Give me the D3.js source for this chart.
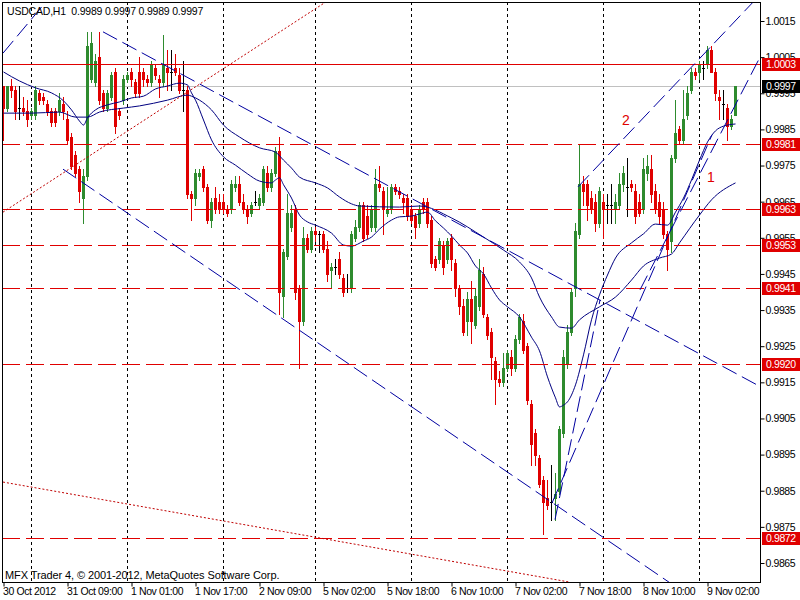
<!DOCTYPE html>
<html><head><meta charset="utf-8">
<script src="https://cdn.jsdelivr.net/npm/d3@7"></script>
<style>
body{margin:0;background:#fff;overflow:hidden;}
svg text{font-family:"Liberation Sans",Arial,sans-serif;}
</style></head><body>
<svg id="chart" width="800" height="600"></svg>
<script>
// ---------- DATA ----------
const symbolTitle = "USDCAD,H1  0.9989 0.9997 0.9989 0.9997";
const copyright = "MFX Trader 4, \u00A9 2001-2012, MetaQuotes Software Corp.";
const opens = [0.9997,0.9991,0.9997,0.9996,0.9991,0.9991,0.9990,0.9989,0.9989,0.9995,0.9994,0.9992,0.9990,0.9990,0.9990,0.9992,0.9988,0.9983,0.9978,0.9974,
0.9966,0.9972,0.9999,0.9998,1.0005,0.9995,0.9991,0.9994,1.0001,0.9990,0.9993,0.9999,1.0001,0.9998,1.0001,1.0001,0.9999,0.9998,1.0002,0.9999,
0.9998,1.0002,1.0001,1.0002,1.0000,0.9996,0.9996,0.9967,0.9966,0.9972,0.9974,0.9969,0.9960,0.9966,0.9965,0.9965,0.9963,0.9963,0.9969,0.9970,
0.9965,0.9963,0.9962,0.9965,0.9964,0.9965,0.9973,0.9969,0.9973,0.9979,0.9939,0.9950,0.9958,0.9963,0.9941,0.9932,0.9955,0.9952,0.9957,0.9956,
0.9956,0.9952,0.9946,0.9947,0.9949,0.9944,0.9941,0.9941,0.9955,0.9958,0.9964,0.9961,0.9958,0.9958,0.9970,0.9968,0.9962,0.9963,0.9969,0.9968,
0.9966,0.9966,0.9963,0.9961,0.9959,0.9965,0.9965,0.9960,0.9949,0.9949,0.9953,0.9949,0.9955,0.9948,0.9941,0.9936,0.9932,0.9938,0.9931,0.9936,
0.9945,0.9933,0.9929,0.9921,0.9916,0.9915,0.9919,0.9922,0.9919,0.9927,0.9932,0.9925,0.9909,0.9901,0.9894,0.9888,0.9883,0.9882,0.9883,0.9885,
0.9901,0.9920,0.9929,0.9941,0.9956,0.9970,0.9970,0.9966,0.9965,0.9959,0.9965,0.9964,0.9964,0.9963,0.9964,0.9970,0.9969,0.9970,0.9968,0.9965,
0.9963,0.9973,0.9974,0.9968,0.9965,0.9963,0.9956,0.9954,0.9977,0.9985,0.9982,0.9989,0.9996,1.0001,1.0001,1.0002,1.0003,1.0007,1.0001,0.9994,
0.9992,0.9991,0.9986,0.9989];
const highs = [0.9997,0.9997,0.9999,0.9997,0.9997,0.9994,0.9993,0.9991,0.9997,0.9996,0.9995,0.9993,0.9991,0.9991,0.9995,0.9994,0.9990,0.9984,0.9979,0.9975,
0.9974,1.0012,1.0012,1.0006,1.0012,0.9996,0.9996,1.0001,1.0002,0.9991,1.0000,1.0001,1.0002,0.9999,1.0005,1.0002,1.0000,1.0004,1.0003,1.0000,
1.0011,1.0007,1.0007,1.0006,1.0002,1.0004,0.9997,0.9968,0.9974,0.9974,0.9975,0.9970,0.9966,0.9969,0.9967,0.9967,0.9964,0.9971,0.9972,0.9972,
0.9967,0.9964,0.9965,0.9968,0.9967,0.9975,0.9975,0.9974,0.9980,0.9983,0.9952,0.9967,0.9964,0.9964,0.9942,0.9958,0.9956,0.9958,0.9958,0.9957,
0.9957,0.9954,0.9948,0.9949,0.9951,0.9945,0.9945,0.9957,0.9960,0.9965,0.9965,0.9964,0.9964,0.9974,0.9975,0.9969,0.9969,0.9970,0.9970,0.9969,
0.9967,0.9967,0.9964,0.9962,0.9964,0.9966,0.9966,0.9961,0.9950,0.9955,0.9954,0.9955,0.9956,0.9949,0.9942,0.9938,0.9940,0.9943,0.9941,0.9949,
0.9947,0.9934,0.9930,0.9922,0.9918,0.9923,0.9924,0.9924,0.9928,0.9934,0.9934,0.9926,0.9910,0.9902,0.9895,0.9889,0.9888,0.9892,0.9890,0.9903,
0.9924,0.9931,0.9941,0.9959,0.9981,0.9972,0.9971,0.9968,0.9967,0.9969,0.9967,0.9967,0.9970,0.9967,0.9973,0.9975,0.9977,0.9971,0.9970,0.9967,
0.9977,0.9978,0.9978,0.9970,0.9967,0.9965,0.9957,0.9978,0.9993,0.9986,0.9996,0.9997,1.0002,1.0002,1.0004,1.0004,1.0008,1.0008,1.0002,0.9996,
0.9996,0.9992,0.9989,0.9997];
const lows = [0.9982,0.9990,0.9994,0.9988,0.9988,0.9989,0.9986,0.9988,0.9988,0.9992,0.9992,0.9989,0.9986,0.9986,0.9989,0.9988,0.9981,0.9974,0.9972,0.9965,
0.9959,0.9971,0.9998,0.9997,0.9992,0.9990,0.9990,0.9993,0.9984,0.9988,0.9992,0.9998,0.9997,0.9994,0.9994,0.9997,0.9997,0.9997,0.9999,0.9994,
0.9997,0.9996,0.9996,1.0000,0.9995,0.9990,0.9966,0.9960,0.9964,0.9971,0.9968,0.9959,0.9958,0.9962,0.9962,0.9962,0.9961,0.9962,0.9968,0.9964,
0.9962,0.9959,0.9961,0.9964,0.9963,0.9964,0.9968,0.9968,0.9972,0.9934,0.9933,0.9949,0.9957,0.9938,0.9919,0.9931,0.9951,0.9951,0.9954,0.9951,
0.9951,0.9943,0.9941,0.9945,0.9944,0.9939,0.9940,0.9940,0.9954,0.9957,0.9954,0.9955,0.9957,0.9957,0.9968,0.9956,0.9961,0.9962,0.9967,0.9966,
0.9962,0.9960,0.9959,0.9955,0.9958,0.9962,0.9958,0.9947,0.9946,0.9948,0.9945,0.9948,0.9946,0.9939,0.9934,0.9928,0.9928,0.9926,0.9930,0.9935,
0.9933,0.9927,0.9916,0.9909,0.9914,0.9914,0.9918,0.9917,0.9918,0.9926,0.9923,0.9909,0.9892,0.9892,0.9886,0.9873,0.9880,0.9877,0.9877,0.9884,
0.9900,0.9919,0.9928,0.9939,0.9955,0.9964,0.9960,0.9962,0.9957,0.9958,0.9955,0.9959,0.9959,0.9959,0.9963,0.9968,0.9961,0.9968,0.9959,0.9961,
0.9962,0.9971,0.9965,0.9962,0.9959,0.9955,0.9946,0.9951,0.9976,0.9981,0.9981,0.9988,0.9995,0.9999,0.9999,0.9999,1.0002,1.0001,0.9993,0.9988,
0.9988,0.9982,0.9985,0.9989];
const closes = [0.9991,0.9997,0.9996,0.9990,0.9991,0.9990,0.9988,0.9990,0.9996,0.9993,0.9993,0.9990,0.9987,0.9987,0.9993,0.9990,0.9982,0.9975,0.9973,0.9968,
0.9972,1.0008,1.0009,1.0004,0.9993,0.9991,0.9995,1.0000,0.9986,0.9989,0.9999,1.0000,0.9999,0.9995,0.9995,0.9999,0.9998,1.0003,1.0000,0.9998,
1.0003,1.0001,1.0001,1.0001,0.9996,0.9996,0.9967,0.9966,0.9973,0.9973,0.9969,0.9960,0.9965,0.9963,0.9963,0.9963,0.9962,0.9970,0.9970,0.9965,
0.9963,0.9961,0.9964,0.9965,0.9966,0.9974,0.9969,0.9973,0.9979,0.9940,0.9951,0.9962,0.9962,0.9940,0.9932,0.9955,0.9952,0.9957,0.9956,0.9956,
0.9952,0.9945,0.9947,0.9947,0.9945,0.9940,0.9941,0.9956,0.9958,0.9964,0.9955,0.9956,0.9963,0.9970,0.9969,0.9963,0.9963,0.9969,0.9968,0.9967,
0.9965,0.9961,0.9960,0.9958,0.9963,0.9963,0.9959,0.9948,0.9947,0.9954,0.9947,0.9954,0.9949,0.9941,0.9936,0.9929,0.9938,0.9932,0.9939,0.9946,
0.9934,0.9928,0.9922,0.9916,0.9915,0.9919,0.9923,0.9919,0.9927,0.9933,0.9924,0.9910,0.9898,0.9895,0.9887,0.9882,0.9881,0.9882,0.9884,0.9902,
0.9922,0.9929,0.9940,0.9957,0.9970,0.9968,0.9964,0.9963,0.9959,0.9968,0.9963,0.9964,0.9964,0.9965,0.9970,0.9973,0.9969,0.9969,0.9961,0.9962,
0.9974,0.9975,0.9967,0.9963,0.9961,0.9956,0.9952,0.9977,0.9984,0.9982,0.9988,0.9995,1.0001,1.0000,1.0003,1.0002,1.0007,1.0001,0.9995,0.9993,
0.9992,0.9986,0.9988,0.9997];

const timeLabels = ["30 Oct 2012","31 Oct 09:00","1 Nov 01:00","1 Nov 17:00","2 Nov 09:00","5 Nov 02:00","5 Nov 18:00","6 Nov 10:00","7 Nov 02:00","7 Nov 18:00","8 Nov 10:00","9 Nov 02:00"];
const timeLabelBars = [0,16,32,48,64,80,96,112,128,144,160,176];
const dayStartBars = [7,31,55,78,102,126,150,174];
const priceTicks = [1.0015,1.0005,0.9995,0.9985,0.9975,0.9965,0.9955,0.9945,0.9935,0.9925,0.9915,0.9905,0.9895,0.9885,0.9875,0.9865];
const levelLines = [0.9981,0.9963,0.9953,0.9941,0.9920,0.9872];
const resistanceLine = 1.0003;
const bidPrice = 0.9997;

const maFastBars = [0,4,8,12,15,17,19,20,21,23,26,29,32,35,38,41,44,46,47,48,50,52,55,58,61,64,67,68,69,70,72,74,76,78,82,85,87,90,92,94,97,99,102,104,106,108,110,112,114,116,118,120,122,124,126,129,132,134,136,138,139,140,141,143,145,147,149,151,153,157,160,163,166,168,170,172,174,176,178,180,183];
const maFastValues = [1.00009,0.99984,0.99965,0.99951,0.99929,0.99904,0.99873,0.99862,0.99882,0.99904,0.99918,0.99926,0.99937,0.99942,0.99962,0.99970,0.99978,0.99973,0.99951,0.99931,0.99876,0.99821,0.99774,0.99751,0.99727,0.99707,0.99702,0.99710,0.99716,0.99697,0.99660,0.99613,0.99594,0.99585,0.99563,0.99530,0.99527,0.99541,0.99552,0.99574,0.99599,0.99608,0.99610,0.99616,0.99621,0.99597,0.99577,0.99555,0.99530,0.99508,0.99472,0.99450,0.99411,0.99378,0.99359,0.99331,0.99275,0.99237,0.99165,0.99107,0.99082,0.99087,0.99096,0.99143,0.99226,0.99323,0.99392,0.99447,0.99494,0.99536,0.99561,0.99588,0.99585,0.99621,0.99660,0.99710,0.99765,0.99815,0.99846,0.99859,0.99865];
const maSlowBars = [0,7,14,18,21,24,30,34,41,46,47,49,52,55,59,64,68,70,72,74,78,81,84,87,89,99,104,112,120,125,129,132,134,137,139,142,144,149,153,157,160,164,167,169,174,177,183];
const maSlowValues = [0.99895,0.99895,0.99898,0.99884,0.99884,0.99898,0.99909,0.99915,0.99931,0.99945,0.99942,0.99931,0.99904,0.99862,0.99829,0.99799,0.99787,0.99765,0.99743,0.99718,0.99702,0.99688,0.99663,0.99644,0.99638,0.99635,0.99638,0.99605,0.99552,0.99516,0.99483,0.99439,0.99386,0.99331,0.99303,0.99300,0.99323,0.99359,0.99386,0.99433,0.99472,0.99494,0.99505,0.99536,0.99613,0.99655,0.99702];

// trend objects: [bar, price] endpoints
const trendA = [[25,1.00120],[189.5,0.99137]];
const trendB = [[15,0.99740],[166.75,0.98595]];
const trendE = [[0,1.00061],[10.5,1.00200]];
const channel2 = [[143.75,0.99691],[187.75,1.00205]];
const fanA = [[137.25,0.98816],[177.25,0.99835]];
const fanB = [[138,0.98770],[149.25,0.99378]];
const fanC = [[159.25,0.99406],[189.25,1.00050]];
const dotUp = [[0,0.99621],[80.75,1.00203]];
const dotDown = [[0,0.98874],[141.75,0.98597]];
const noteText = ["2","1"];
const noteBars = [155.75,177];
const notePrices = [0.99876,0.99718];

// ---------- DRAW ----------
const W=800,H=600;
const plot={left:2,right:761,top:2,bottom:583};
const RED="#e00000", GREEN="#2e8b2e", NAVY="#000080", BLUE="#0000a0";
const svg=d3.select("#chart");
const x=d3.scaleLinear().domain([0,1]).range([3,7]);
const y=d3.scaleLinear().domain([0.9865,1.0015]).range([563,21]);
const py=p=>Math.round(y(p))+0.5;

svg.append("rect").attr("width",W).attr("height",H).attr("fill","#fff");
svg.append("defs").append("clipPath").attr("id","pc").append("rect")
  .attr("x",plot.left).attr("y",plot.top).attr("width",plot.right-plot.left).attr("height",plot.bottom-plot.top);
const g=svg.append("g").attr("clip-path","url(#pc)");

// day grid
g.selectAll(".vgrid").data(dayStartBars).join("line")
  .attr("x1",d=>x(d)+0.5).attr("x2",d=>x(d)+0.5).attr("y1",plot.top).attr("y2",plot.bottom)
  .attr("stroke","#000").attr("stroke-dasharray","3,3");

// bid line
g.append("line").attr("x1",plot.left).attr("x2",plot.right).attr("y1",py(bidPrice)).attr("y2",py(bidPrice)).attr("stroke","#c0c0c0");

// candles
const idx=d3.range(closes.length);
const col=i=>closes[i]>opens[i]?GREEN:(closes[i]<opens[i]?RED:"#000");
const cg=g.append("g").attr("shape-rendering","crispEdges");
cg.selectAll(".wick").data(idx).join("rect")
  .attr("x",i=>x(i)).attr("width",1)
  .attr("y",i=>Math.round(y(highs[i]))).attr("height",i=>Math.max(1,Math.round(y(lows[i]))-Math.round(y(highs[i]))+1))
  .attr("fill",col);
cg.selectAll(".body").data(idx).join("rect")
  .attr("x",i=>x(i)-1).attr("width",3)
  .attr("y",i=>Math.round(y(Math.max(opens[i],closes[i]))))
  .attr("height",i=>Math.max(1,Math.round(y(Math.min(opens[i],closes[i])))-Math.round(y(Math.max(opens[i],closes[i])))+1))
  .attr("fill",col);

// moving averages
const maLine=d3.line().x(d=>x(d[0])+0.5).y(d=>y(d[1])).curve(d3.curveMonotoneX);
g.append("path").attr("d",maLine(maFastBars.map((b,k)=>[b,maFastValues[k]]))).attr("fill","none").attr("stroke",NAVY).attr("stroke-width",1);
g.append("path").attr("d",maLine(maSlowBars.map((b,k)=>[b,maSlowValues[k]]))).attr("fill","none").attr("stroke",NAVY).attr("stroke-width",1);

// horizontal levels
g.selectAll(".lvl").data(levelLines).join("line")
  .attr("x1",plot.left).attr("x2",plot.right).attr("y1",py).attr("y2",py)
  .attr("stroke",RED).attr("stroke-dasharray","18,6");
g.append("line").attr("x1",plot.left).attr("x2",plot.right).attr("y1",py(resistanceLine)).attr("y2",py(resistanceLine)).attr("stroke",RED);

// trend lines
const seg=(pts,color,dash)=>g.append("line")
  .attr("x1",x(pts[0][0])).attr("y1",y(pts[0][1])).attr("x2",x(pts[1][0])).attr("y2",y(pts[1][1]))
  .attr("stroke",color).attr("stroke-width",1).attr("stroke-dasharray",dash);
[trendA,trendB,trendE,channel2,fanA,fanB,fanC].forEach(t=>seg(t,BLUE,"16,6"));
[dotUp,dotDown].forEach(t=>seg(t,"#c00000","2,2"));

// notes
g.selectAll(".note").data(noteText).join("text")
  .attr("x",(d,k)=>x(noteBars[k])).attr("y",(d,k)=>y(notePrices[k])+5)
  .attr("text-anchor","middle").attr("font-size",14).attr("fill",RED).text(d=>d);

// frame
svg.append("rect").attr("x",plot.left+0.5).attr("y",plot.top+0.5).attr("width",plot.right-plot.left-1).attr("height",plot.bottom-plot.top-1)
  .attr("fill","none").attr("stroke","#000");

// price axis
const yAxis=d3.axisRight(y).tickValues(priceTicks).tickFormat(d3.format(".4f")).tickSize(4).tickPadding(1);
const ya=svg.append("g").attr("transform",`translate(${plot.right-0.5},0)`).call(yAxis);
ya.select(".domain").remove();
ya.selectAll("text").attr("font-size",10.5).attr("letter-spacing",-0.4).attr("fill","#000").attr("font-family","Liberation Sans, Arial, sans-serif");
ya.selectAll("line").attr("stroke","#000");

// level boxes on axis
const boxes=[...levelLines.map(v=>({v,fill:RED})),{v:resistanceLine,fill:RED},{v:bidPrice,fill:"#000"}];
const bx=svg.selectAll(".box").data(boxes).join("g").attr("transform",d=>`translate(${plot.right},${Math.round(y(d.v))})`);
bx.append("rect").attr("x",1).attr("y",-6).attr("width",38).attr("height",13).attr("fill",d=>d.fill);
bx.append("text").attr("x",5).attr("y",4).attr("font-size",10.5).attr("letter-spacing",-0.4).attr("fill","#fff").text(d=>d3.format(".4f")(d.v));

// time axis
const xAxis=d3.axisBottom(x).tickValues(timeLabelBars).tickFormat((d,k)=>timeLabels[k]).tickSize(4).tickPadding(1);
const xa=svg.append("g").attr("transform",`translate(0.5,${plot.bottom-0.5})`).call(xAxis);
xa.select(".domain").remove();
xa.selectAll("text").attr("text-anchor","start").attr("dx",-1).attr("font-size",10.5).attr("letter-spacing",-0.4).attr("fill","#000").attr("font-family","Liberation Sans, Arial, sans-serif");
xa.selectAll("line").attr("stroke","#000");

// texts
svg.append("text").attr("x",7).attr("y",15).attr("font-size",10.5).attr("letter-spacing",-0.2).attr("fill","#000").style("white-space","pre").text(symbolTitle);
svg.append("text").attr("x",5).attr("y",579).attr("font-size",11).attr("letter-spacing",-0.1).attr("fill","#000").text(copyright);
</script>
</body></html>
